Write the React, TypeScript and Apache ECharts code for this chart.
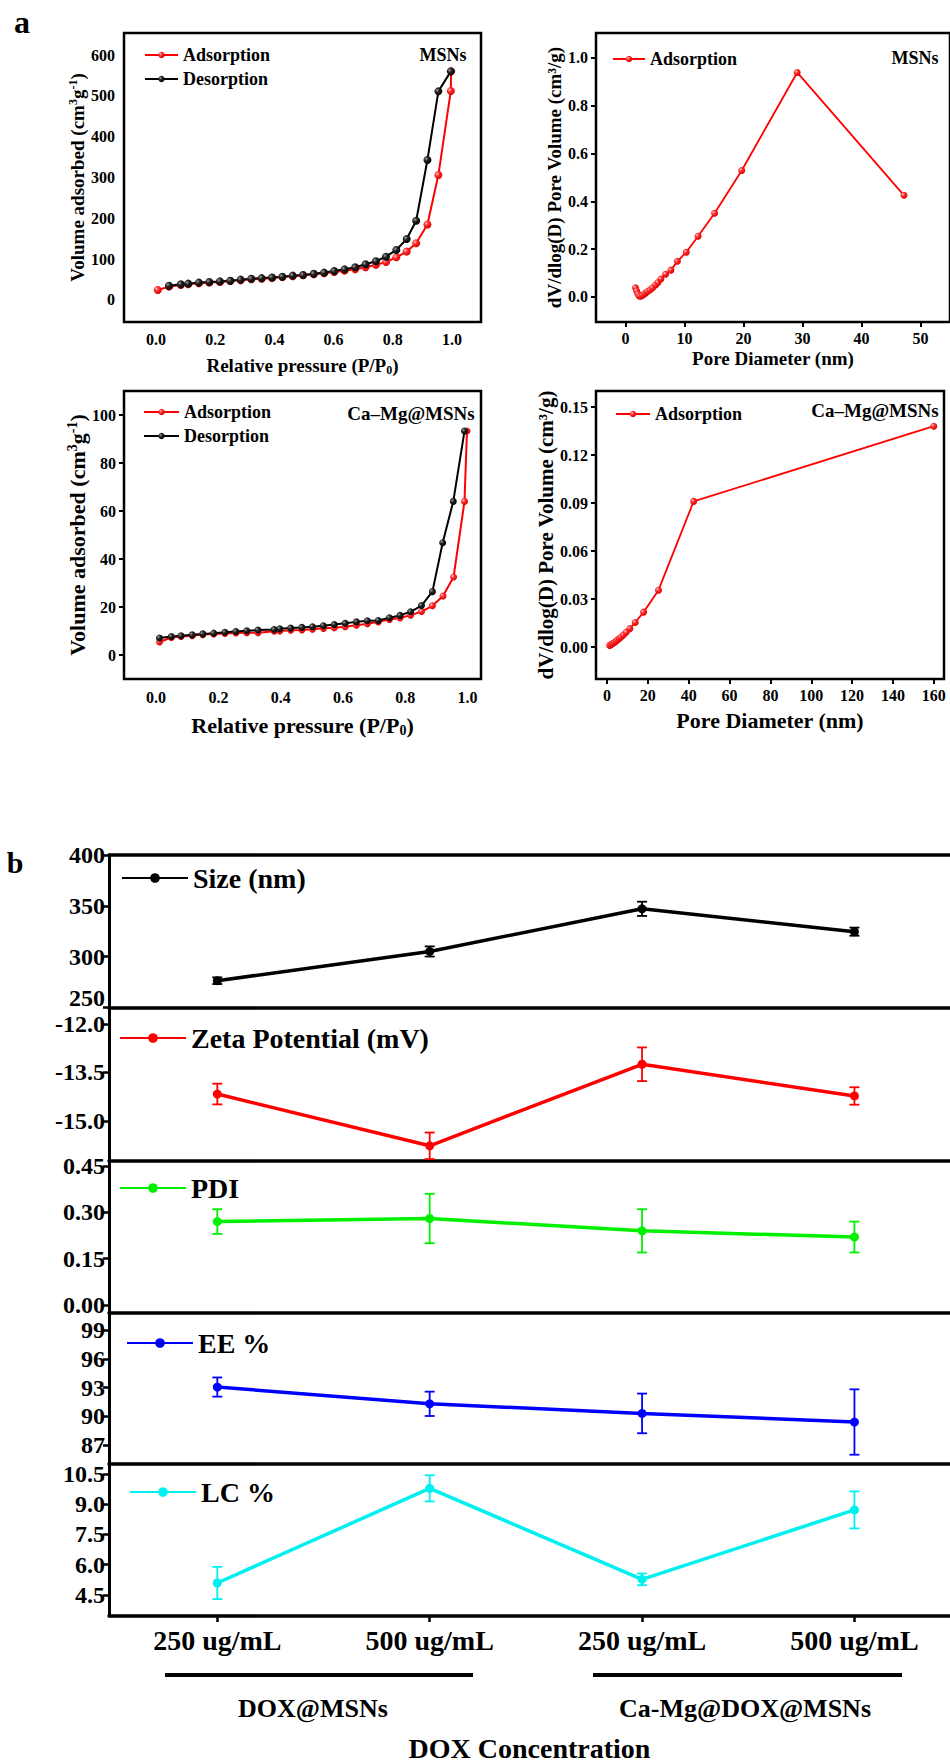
import React, { useEffect, useRef } from "react";
import * as echarts from "echarts";

const FONT = "'Liberation Serif', 'Times New Roman', Times, serif";

// ---------- Panel a : N2 isotherms ----------
const msnAdsP = [0.006, 0.044, 0.084, 0.109, 0.145, 0.180, 0.216, 0.251, 0.286, 0.322, 0.357, 0.392, 0.427, 0.462, 0.497, 0.533, 0.568, 0.602, 0.637, 0.673, 0.708, 0.743, 0.777, 0.812, 0.847, 0.879, 0.917, 0.954, 0.996, 0.997];
const msnAdsV = [24.5, 32.6, 36.7, 38.3, 40.8, 42.5, 44, 46.5, 48, 50.6, 52, 54, 56, 58, 60.4, 63, 65.3, 68.6, 71.8, 75, 80, 86, 93, 104.5, 118.5, 139, 185, 306, 512, 560];
const msnDesP = [0.996, 0.954, 0.917, 0.879, 0.847, 0.812, 0.777, 0.743, 0.708, 0.673, 0.637, 0.602, 0.568, 0.533, 0.497, 0.462, 0.427, 0.392, 0.357, 0.322, 0.286, 0.251, 0.216, 0.180, 0.145, 0.109, 0.084, 0.044];
const msnDesV = [560, 511, 343, 194, 149.5, 122.5, 106, 94.8, 87.4, 80, 75, 71, 67, 64, 61, 59.6, 57, 55, 53.5, 52, 49.8, 47, 45.5, 44, 42.5, 40, 38.3, 35];

const cmAdsP = [0.011, 0.049, 0.080, 0.116, 0.150, 0.185, 0.221, 0.256, 0.291, 0.327, 0.379, 0.397, 0.432, 0.468, 0.502, 0.537, 0.572, 0.607, 0.643, 0.678, 0.713, 0.749, 0.783, 0.817, 0.852, 0.887, 0.921, 0.955, 0.990, 0.998];
const cmAdsV = [5.4, 7.3, 7.7, 8.0, 8.5, 8.8, 9.0, 9.2, 9.3, 9.3, 9.9, 10.0, 10.3, 10.4, 10.7, 11.1, 11.4, 11.8, 12.4, 13.0, 13.8, 14.8, 15.4, 16.6, 18.1, 20.5, 24.6, 32.5, 64, 93.3];
const cmDesP = [0.990, 0.954, 0.920, 0.887, 0.852, 0.817, 0.783, 0.749, 0.713, 0.678, 0.643, 0.607, 0.572, 0.537, 0.502, 0.468, 0.432, 0.397, 0.379, 0.327, 0.291, 0.256, 0.221, 0.185, 0.150, 0.116, 0.080, 0.049, 0.011];
const cmDesV = [93.3, 64, 46.8, 26.4, 20.6, 18, 16.5, 15.5, 14.4, 14.3, 13.8, 13.2, 12.7, 12.2, 11.8, 11.5, 11.2, 10.9, 10.6, 10.4, 10.1, 9.8, 9.5, 9.1, 8.8, 8.4, 8.0, 7.7, 7.1];

// ---------- Panel a : pore size distributions ----------
const msnPoreD = [1.7, 1.9, 2.1, 2.3, 2.6, 2.9, 3.2, 3.5, 3.8, 4.2, 4.6, 5.1, 5.5, 6.0, 6.8, 7.7, 8.8, 10.3, 12.3, 15.1, 19.7, 29.1, 47.2];
const msnPoreV = [0.038, 0.025, 0.012, 0.004, 0.003, 0.007, 0.012, 0.018, 0.024, 0.030, 0.038, 0.050, 0.060, 0.075, 0.095, 0.112, 0.149, 0.187, 0.254, 0.350, 0.529, 0.939, 0.425];
const cmPoreD = [1.3, 2.0, 2.6, 3.2, 3.8, 4.5, 5.2, 6.0, 6.9, 8.0, 9.4, 11.2, 13.8, 17.9, 25.2, 42.4, 160];
const cmPoreV = [0.001, 0.0015, 0.002, 0.0025, 0.003, 0.0037, 0.0045, 0.0053, 0.0063, 0.0075, 0.0092, 0.0115, 0.0153, 0.0218, 0.0355, 0.091, 0.138];

// ---------- Panel b ----------
const categories = ["250 ug/mL", "500 ug/mL", "250 ug/mL", "500 ug/mL"];
const groups = ["DOX@MSNs", "Ca-Mg@DOX@MSNs"];
const sizeVals = [276.2, 305, 347, 324.5];
const sizeErr = [3.3, 5, 7, 4];
const zetaVals = [-14.17, -15.77, -13.25, -14.23];
const zetaErr = [0.32, 0.41, 0.52, 0.27];
const pdiVals = [0.27, 0.28, 0.24, 0.22];
const pdiErr = [0.04, 0.08, 0.07, 0.05];
const eeVals = [93.05, 91.3, 90.3, 89.4];
const eeErr = [1.0, 1.27, 2.07, 3.41];
const lcVals = [5.09, 9.79, 5.27, 8.72];
const lcErr = [0.8, 0.65, 0.29, 0.92];

const isoTicks = [0, 0.2, 0.4, 0.6, 0.8, 1.0];

const zip = (a: number[], b: number[]) => a.map((v, i) => [v, b[i]]);
const ball = (c0: string, c1: string, c2: string) => ({
  type: "radial",
  x: 0.35,
  y: 0.35,
  r: 0.7,
  colorStops: [
    { offset: 0, color: c0 },
    { offset: 0.4, color: c1 },
    { offset: 1, color: c2 },
  ],
});
const RED_BALL = ball("#ffc8c8", "#ff2a2a", "#d80000");
const BLACK_BALL = ball("#a0a0a0", "#222222", "#000000");

const txt = (size: number, extra: any = {}) => ({
  fontFamily: FONT,
  fontWeight: "bold",
  fontSize: size,
  color: "#000",
  ...extra,
});

const supRich = (size: number) => ({
  sup: { fontFamily: FONT, fontWeight: "bold", fontSize: size, color: "#000", padding: [0, 0, 9, 0] },
  sub: { fontFamily: FONT, fontWeight: "bold", fontSize: size, color: "#000", padding: [9, 0, 0, 0] },
});

function aAxis(
  gridIndex: number,
  min: number,
  max: number,
  ticks: number[],
  dec: number,
  showTick: boolean,
  name: string,
  nameGap: number,
  nameSize: number,
  labelMargin: number
) {
  return {
    type: "value",
    gridIndex,
    min,
    max,
    axisLine: { show: false, onZero: false },
    axisTick: { show: showTick, length: 5, lineStyle: { color: "#000", width: 2 }, customValues: ticks },
    axisLabel: {
      customValues: ticks,
      formatter: (v: number) => v.toFixed(dec),
      margin: labelMargin,
      ...txt(16),
    },
    splitLine: { show: false },
    name,
    nameLocation: "middle",
    nameGap,
    nameTextStyle: { ...txt(nameSize), rich: supRich(Math.round(nameSize * 0.65)) },
  };
}

const bXMin = 0.49;
const bXMax = 4.45;

function bXAxis(gridIndex: number, last: boolean, position = "bottom") {
  const ticks = [1, 2, 3, 4];
  return {
    type: "value",
    gridIndex,
    position,
    min: bXMin,
    max: bXMax,
    axisLine: { show: true, onZero: false, lineStyle: { color: "#000", width: 3.5 } },
    axisTick: { show: last, length: 6, lineStyle: { color: "#000", width: 2.5 }, customValues: ticks },
    axisLabel: last
      ? {
          show: true,
          customValues: ticks,
          formatter: (v: number) => categories[Math.round(v) - 1] || "",
          margin: 10,
          ...txt(28),
        }
      : { show: false },
    splitLine: { show: false },
    name: last ? "DOX Concentration" : "",
    nameLocation: "middle",
    nameGap: 118,
    nameTextStyle: txt(28),
  };
}

function bYAxis(gridIndex: number, min: number, max: number, ticks: number[], dec: number, liftMin = false) {
  return {
    type: "value",
    gridIndex,
    min,
    max,
    axisLine: { show: true, onZero: false, lineStyle: { color: "#000", width: 3 } },
    axisTick: { show: true, length: 6, lineStyle: { color: "#000", width: 2.5 }, customValues: ticks },
    axisLabel: {
      customValues: ticks,
      formatter: (v: number) =>
        liftMin && Math.abs(v - min) < 1e-9 ? `{lo|${v.toFixed(dec)}}` : v.toFixed(dec),
      margin: 4,
      ...txt(24),
      rich: { lo: { ...txt(24), padding: [0, 0, 18, 0] } },
    },
    splitLine: { show: false },
  };
}

function bLine(name: string, idx: number, vals: number[], color: string) {
  return {
    type: "line",
    name,
    xAxisIndex: idx,
    yAxisIndex: idx,
    data: vals.map((v, i) => [i + 1, v]),
    symbol: "circle",
    symbolSize: 9,
    lineStyle: { color, width: 3.5 },
    itemStyle: { color },
    z: 3,
  };
}

function bErr(name: string, idx: number, vals: number[], errs: number[], color: string) {
  return {
    type: "custom",
    name,
    xAxisIndex: idx,
    yAxisIndex: idx,
    data: vals.map((v, i) => [i + 1, v - errs[i], v + errs[i]]),
    encode: { x: 0, y: [1, 2] },
    silent: true,
    z: 4,
    renderItem: (_p: any, api: any) => {
      const x = api.value(0);
      const lo = api.coord([x, api.value(1)]);
      const hi = api.coord([x, api.value(2)]);
      const hw = 5;
      const style = { stroke: color, lineWidth: 1.8, fill: "none" };
      return {
        type: "group",
        children: [
          { type: "line", shape: { x1: lo[0], y1: lo[1], x2: hi[0], y2: hi[1] }, style },
          { type: "line", shape: { x1: lo[0] - hw, y1: lo[1], x2: lo[0] + hw, y2: lo[1] }, style },
          { type: "line", shape: { x1: hi[0] - hw, y1: hi[1], x2: hi[0] + hw, y2: hi[1] }, style },
        ],
      };
    },
  };
}

function aLegend(left: number, top: number, width: number, names: string[]) {
  return {
    orient: "vertical",
    left,
    top,
    itemWidth: width,
    itemHeight: 8,
    itemGap: 6,
    selectedMode: false,
    data: names,
    formatter: (n: string) => n.split("|")[0],
    textStyle: txt(18),
  };
}

function bLegend(left: number, top: number, name: string) {
  return {
    left,
    top,
    itemWidth: 66,
    itemHeight: 12,
    selectedMode: false,
    data: [name],
    textStyle: txt(28),
  };
}

function label(text: string, x: number, y: number, size: number) {
  return {
    type: "text",
    x,
    y,
    style: {
      text,
      fill: "#000",
      fontFamily: FONT,
      fontWeight: "bold",
      fontSize: size,
      align: "center",
      verticalAlign: "middle",
      textAlign: "center",
      textVerticalAlign: "middle",
    },
  };
}

export default function App() {
  const ref = useRef<HTMLDivElement>(null);
  useEffect(() => {
    if (!ref.current) return;
    const chart = echarts.init(ref.current, undefined, { renderer: "svg" });
    const gridBox = { show: true, borderColor: "#000", borderWidth: 2.5, backgroundColor: "transparent" };
    const option: any = {
      animation: false,
      backgroundColor: "#fff",
      textStyle: { fontFamily: FONT },
      grid: [
        { left: 124, top: 33, width: 357, height: 289, ...gridBox },
        { left: 596, top: 33, width: 357, height: 289, ...gridBox },
        { left: 124, top: 391, width: 357, height: 288, ...gridBox },
        { left: 596, top: 391, width: 348, height: 288, ...gridBox },
        { left: 109, top: 855, width: 841, height: 152.3 },
        { left: 109, top: 1007.3, width: 841, height: 153.4 },
        { left: 109, top: 1160.7, width: 841, height: 151.6 },
        { left: 109, top: 1312.3, width: 841, height: 151.7 },
        { left: 109, top: 1464, width: 841, height: 153.3 },
      ],
      xAxis: [
        aAxis(0, -0.108, 1.098, isoTicks, 1, false, "Relative pressure (P/P{sub|0})", 33, 19, 9),
        aAxis(1, -5, 55, [0, 10, 20, 30, 40, 50], 0, true, "Pore Diameter (nm)", 27, 19, 8),
        aAxis(2, -0.103, 1.043, isoTicks, 1, false, "Relative pressure (P/P{sub|0})", 35, 22, 10),
        aAxis(3, -5.4, 165, [0, 20, 40, 60, 80, 100, 120, 140, 160], 0, true, "Pore Diameter (nm)", 30, 22, 8),
        bXAxis(4, false),
        bXAxis(5, false),
        bXAxis(6, false),
        bXAxis(7, false),
        bXAxis(8, true),
        bXAxis(4, false, "top"),
      ],
      yAxis: [
        aAxis(0, -54, 654, [0, 100, 200, 300, 400, 500, 600], 0, false, "Volume adsorbed (cm{sup|3}g{sup|-1})", 36, 19, 9),
        aAxis(1, -0.105, 1.104, [0, 0.2, 0.4, 0.6, 0.8, 1.0], 1, true, "dV/dlog(D) Pore Volume (cm³/g)", 32, 19, 8),
        aAxis(2, -10, 110, [0, 20, 40, 60, 80, 100], 0, true, "Volume adsorbed (cm{sup|3}g{sup|-1})", 35, 22, 8),
        aAxis(3, -0.02, 0.16, [0, 0.03, 0.06, 0.09, 0.12, 0.15], 2, true, "dV/dlog(D) Pore Volume (cm³/g)", 38, 21, 8),
        bYAxis(4, 250, 400, [250, 300, 350, 400], 0, true),
        bYAxis(5, -16.23, -11.49, [-15, -13.5, -12], 1),
        bYAxis(6, -0.0236, 0.467, [0, 0.15, 0.3, 0.45], 2),
        bYAxis(7, 85.02, 100.85, [87, 90, 93, 96, 99], 0),
        bYAxis(8, 3.45, 11.0, [4.5, 6, 7.5, 9, 10.5], 1),
      ],
      legend: [
        aLegend(139, 41, 33, ["Adsorption|1", "Desorption|1"]),
        aLegend(607, 45, 32, ["Adsorption|2"]),
        aLegend(138, 398, 35, ["Adsorption|3", "Desorption|3"]),
        aLegend(610, 400, 34, ["Adsorption|4"]),
        bLegend(116, 859, "Size (nm)"),
        bLegend(114, 1019, "Zeta Potential (mV)"),
        bLegend(114, 1169, "PDI"),
        bLegend(121, 1324, "EE %"),
        bLegend(124, 1473, "LC %"),
      ],
      series: [
        {
          type: "line", name: "Adsorption|1", xAxisIndex: 0, yAxisIndex: 0,
          data: zip(msnAdsP, msnAdsV), symbol: "circle", symbolSize: 8,
          lineStyle: { color: "#ff0000", width: 2 }, itemStyle: { color: RED_BALL },
        },
        {
          type: "line", name: "Desorption|1", xAxisIndex: 0, yAxisIndex: 0,
          data: zip(msnDesP, msnDesV), symbol: "circle", symbolSize: 8,
          lineStyle: { color: "#000", width: 2 }, itemStyle: { color: BLACK_BALL },
        },
        {
          type: "line", name: "Adsorption|2", xAxisIndex: 1, yAxisIndex: 1,
          data: zip(msnPoreD, msnPoreV), symbol: "circle", symbolSize: 7,
          lineStyle: { color: "#ff0000", width: 1.8 }, itemStyle: { color: RED_BALL },
        },
        {
          type: "line", name: "Adsorption|3", xAxisIndex: 2, yAxisIndex: 2,
          data: zip(cmAdsP, cmAdsV), symbol: "circle", symbolSize: 7,
          lineStyle: { color: "#ff0000", width: 2 }, itemStyle: { color: RED_BALL },
        },
        {
          type: "line", name: "Desorption|3", xAxisIndex: 2, yAxisIndex: 2,
          data: zip(cmDesP, cmDesV), symbol: "circle", symbolSize: 7,
          lineStyle: { color: "#000", width: 2 }, itemStyle: { color: BLACK_BALL },
        },
        {
          type: "line", name: "Adsorption|4", xAxisIndex: 3, yAxisIndex: 3,
          data: zip(cmPoreD, cmPoreV), symbol: "circle", symbolSize: 7,
          lineStyle: { color: "#ff0000", width: 1.8 }, itemStyle: { color: RED_BALL },
        },
        bLine("Size (nm)", 4, sizeVals, "#000000"),
        bErr("Size err", 4, sizeVals, sizeErr, "#000000"),
        bLine("Zeta Potential (mV)", 5, zetaVals, "#ff0000"),
        bErr("Zeta err", 5, zetaVals, zetaErr, "#ff0000"),
        bLine("PDI", 6, pdiVals, "#00f000"),
        bErr("PDI err", 6, pdiVals, pdiErr, "#00f000"),
        bLine("EE %", 7, eeVals, "#0000ff"),
        bErr("EE err", 7, eeVals, eeErr, "#0000ff"),
        bLine("LC %", 8, lcVals, "#00f0f0"),
        bErr("LC err", 8, lcVals, lcErr, "#00f0f0"),
      ],
      graphic: [
        label("a", 22, 22, 32),
        label("b", 15, 862, 30),
        label("MSNs", 443, 55, 18),
        label("MSNs", 915, 58, 18),
        label("Ca\u2013Mg@MSNs", 411, 413, 19),
        label("Ca\u2013Mg@MSNs", 875, 410, 19),
        {
          type: "line",
          shape: { x1: 165, y1: 1675, x2: 473, y2: 1675 },
          style: { stroke: "#000", lineWidth: 4 },
        },
        {
          type: "line",
          shape: { x1: 593, y1: 1675, x2: 902, y2: 1675 },
          style: { stroke: "#000", lineWidth: 4 },
        },
        label(groups[0], 313, 1708, 26),
        label(groups[1], 745, 1708, 26),
      ],
    };
    chart.setOption(option);
    return () => chart.dispose();
  }, []);
  return (
    <div
      ref={ref}
      style={{ position: "absolute", left: 0, top: 0, width: 950, height: 1763, background: "#fff" }}
    />
  );
}
